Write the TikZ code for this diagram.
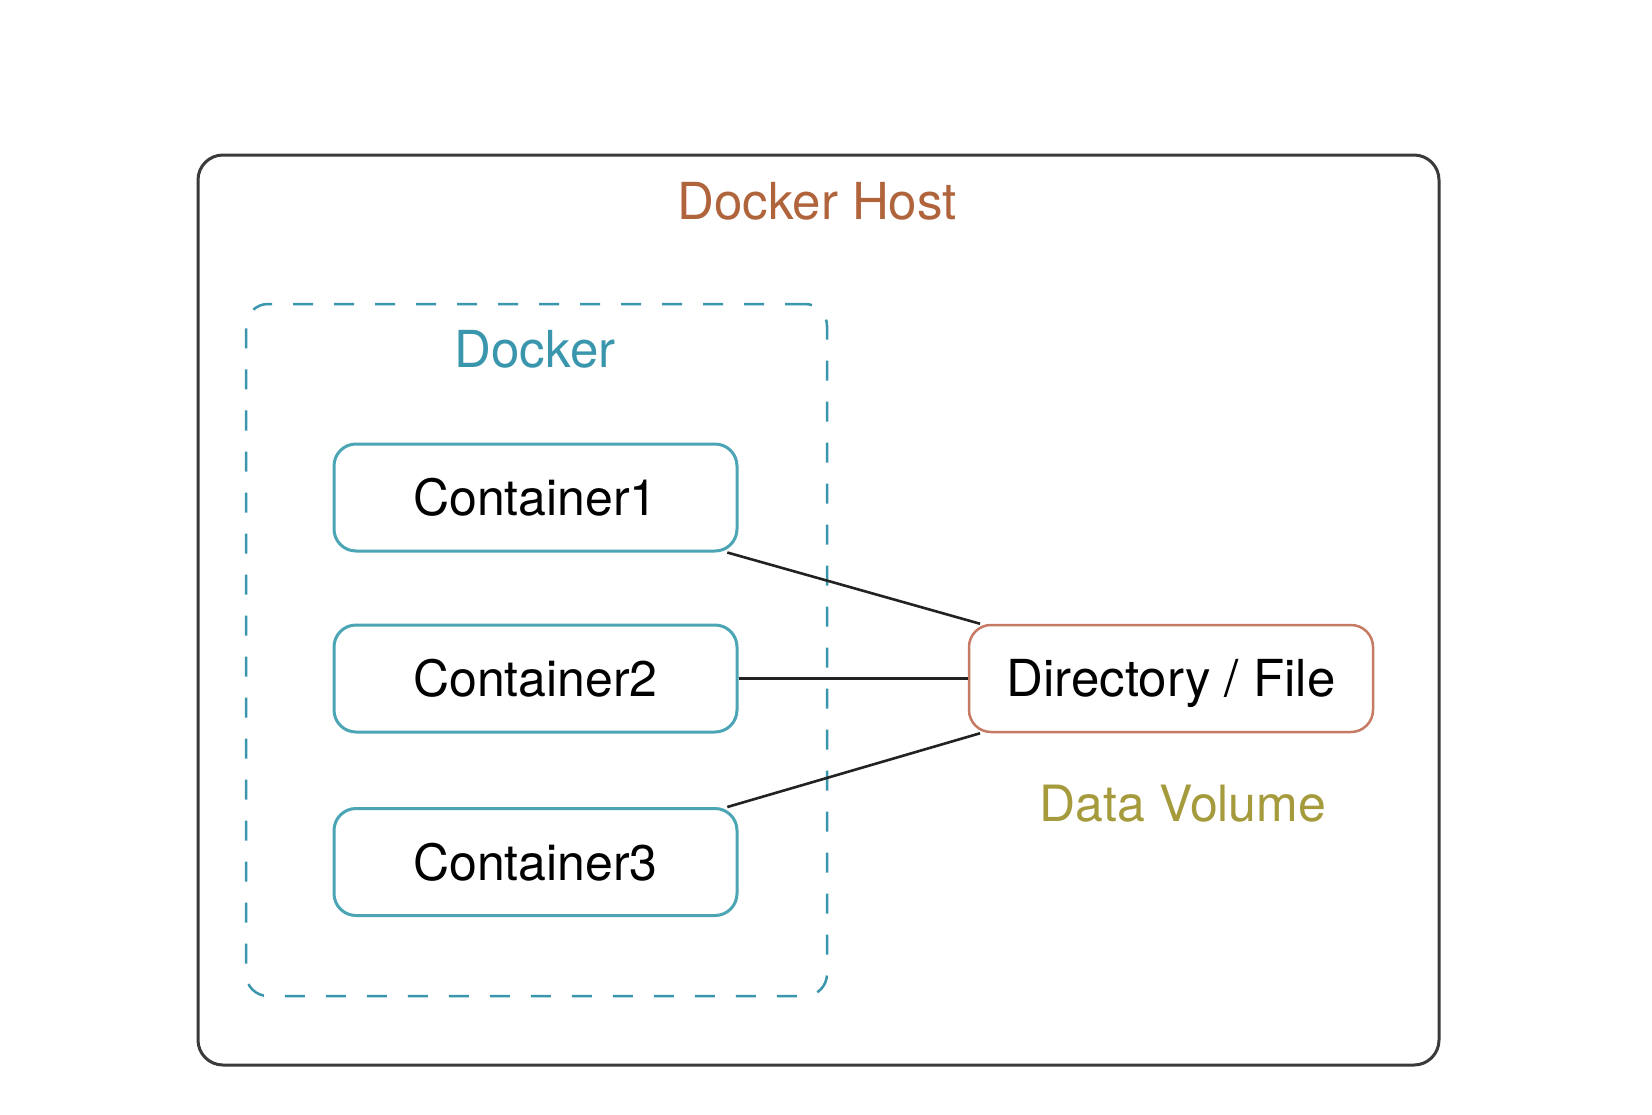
\documentclass[tikz,border=0pt]{standalone}
\usepackage{fontspec}
\setmainfont{TeX Gyre Heros}
\definecolor{hostline}{HTML}{3A3A3A}
\definecolor{hosttext}{HTML}{B0643C}
\definecolor{dockteal}{HTML}{3A96AD}
\definecolor{contline}{HTML}{4BA5B4}
\definecolor{dirline}{HTML}{C77A63}
\definecolor{voltext}{HTML}{A59A3C}
\definecolor{connline}{HTML}{222222}
\begin{document}
\begin{tikzpicture}[x=1pt,y=-1pt,
  hostbox/.style={draw=hostline,line width=3pt,rounded corners=25pt,minimum width=1241pt,minimum height=910pt,inner sep=0pt},
  dockbox/.style={draw=dockteal,line width=2.5pt,dash pattern=on 20pt off 21pt,rounded corners=22pt,minimum width=581pt,minimum height=692pt,inner sep=0pt},
  contbox/.style={draw=contline,line width=3pt,rounded corners=22pt,minimum width=403pt,minimum height=107pt,inner sep=0pt,font=\fontsize{50pt}{56pt}\selectfont,text height=36pt,text depth=0pt},
  dirbox/.style={draw=dirline,line width=2.5pt,rounded corners=22pt,minimum width=404pt,minimum height=107pt,inner sep=0pt,font=\fontsize{51pt}{57pt}\selectfont,text height=36.5pt,text depth=0pt},
  lbl/.style={inner sep=0pt,font=\fontsize{51pt}{57pt}\selectfont,text height=36.5pt,text depth=0pt},
  conn/.style={draw=connline,line width=2.6pt}]
\useasboundingbox[fill=white] (0,0) rectangle (1652,1114);
\node[hostbox] (host) at (818.5,610) {};
\node[lbl,text=hosttext] (hostlabel) at (817,201.5) {Docker Host};
\node[dockbox] (docker) at (536.5,650) {};
\node[lbl,text=dockteal] (dockerlabel) at (535,349.5) {Docker};
\node[contbox] (c1) at (535.5,497.5) {Container1};
\node[contbox] (c2) at (535.5,678.5) {Container2};
\node[contbox] (c3) at (535.5,862) {Container3};
\node[dirbox] (dir) at (1171,678.5) {Directory / File};
\node[lbl,text=voltext,font=\fontsize{50pt}{56pt}\selectfont,text height=36pt] (vol) at (1183,803) {Data Volume};
\draw[conn] (c1.-16.5) -- (dir.164);
\draw[conn] (c2.east) -- (dir.west);
\draw[conn] (c3.16.5) -- (dir.196);
\end{tikzpicture}
\end{document}
